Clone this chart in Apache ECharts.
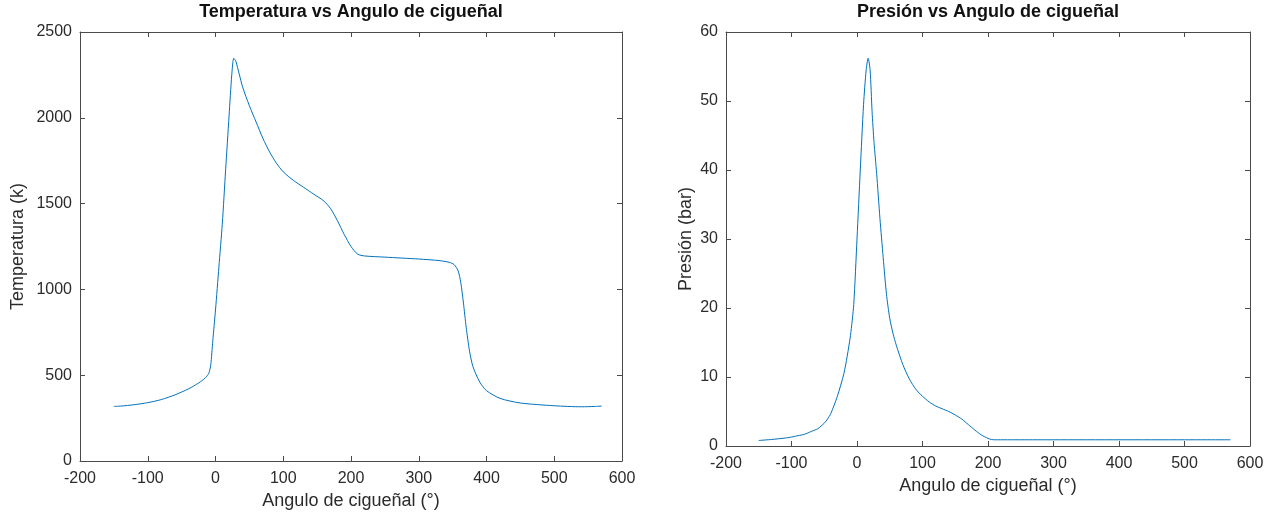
<!DOCTYPE html>
<html>
<head>
<meta charset="utf-8">
<script src="https://cdn.jsdelivr.net/npm/echarts@6/dist/echarts.min.js"></script>
<style>
  html, body { margin: 0; padding: 0; background: #ffffff; }
  #chart { width: 1271px; height: 517px; }
</style>
</head>
<body>
<div id="chart"></div>
<script>
// Crank angle (deg) and gas temperature (K)
const tempAngle = [-150, -140, -120, -100, -80, -60, -40, -30, -20, -15, -10, -7, -4, 0, 5, 10, 15, 20, 24, 27, 30, 35, 40, 50, 60, 70, 80, 90, 100, 115, 130, 145, 160, 170, 180, 190, 200, 210, 220, 250, 300, 330, 345, 352, 358, 362, 366, 370, 375, 380, 390, 400, 420, 450, 500, 540, 560, 570];
const temperature = [318, 320, 328, 340, 358, 385, 420, 442, 468, 485, 510, 560, 700, 880, 1130, 1380, 1700, 2010, 2250, 2347, 2330, 2255, 2180, 2070, 1975, 1880, 1800, 1735, 1685, 1635, 1595, 1555, 1515, 1470, 1400, 1320, 1250, 1205, 1195, 1188, 1177, 1168, 1158, 1145, 1110, 1040, 920, 780, 640, 550, 460, 410, 365, 338, 322, 316, 318, 320];

// Crank angle (deg) and cylinder pressure (bar)
const presAngle = [-150, -130, -110, -100, -90, -80, -70, -60, -50, -45, -40, -30, -20, -15, -10, -5, 0, 5, 10, 14, 17, 20, 23, 26, 30, 35, 40, 45, 50, 55, 60, 70, 80, 90, 100, 110, 120, 130, 140, 150, 160, 170, 180, 190, 200, 205, 210, 250, 300, 400, 500, 570];
const pressure = [0.8, 0.95, 1.15, 1.3, 1.5, 1.7, 2.1, 2.5, 3.3, 3.9, 4.7, 7.2, 10.5, 13, 16, 20.5, 30, 40, 49.5, 54.5, 56.2, 54.5, 48.5, 44, 39.5, 33, 27.3, 22, 18.5, 16.3, 14.6, 11.8, 9.7, 8.2, 7.2, 6.4, 5.8, 5.4, 5.0, 4.5, 3.9, 3.1, 2.3, 1.6, 1.1, 0.95, 0.9, 0.9, 0.9, 0.9, 0.9, 0.9];

// Axis ranges and tick labels
const angleTicks = [-200, -100, 0, 100, 200, 300, 400, 500, 600];
const tempTicks = [0, 500, 1000, 1500, 2000, 2500];
const presTicks = [0, 10, 20, 30, 40, 50, 60];

const FONT = 'Liberation Sans, Arial, Helvetica, sans-serif';
const AXIS_COLOR = '#4a4a4a';
const TEXT_COLOR = '#2b2b2b';
const LINE_COLOR = '#0072BD';

function zip(xs, ys) { return xs.map((x, i) => [x, ys[i]]); }
const plain = v => String(v);

function valueAxis(gridIndex, ticks, opts) {
  const step = ticks[1] - ticks[0];
  return Object.assign({
    type: 'value',
    gridIndex: gridIndex,
    min: ticks[0],
    max: ticks[ticks.length - 1],
    interval: step,
    splitLine: { show: false },
    axisLine: { show: true, onZero: false, lineStyle: { color: AXIS_COLOR, width: 1 } },
    axisTick: { show: true, inside: true, length: 5, lineStyle: { color: AXIS_COLOR, width: 1 } },
    axisLabel: { show: true, color: TEXT_COLOR, fontFamily: FONT, fontSize: 16, formatter: plain },
    nameTextStyle: { color: TEXT_COLOR, fontFamily: FONT, fontSize: 18 }
  }, opts || {});
}

function mirrorAxis(gridIndex, ticks, position) {
  return valueAxis(gridIndex, ticks, {
    position: position,
    axisLabel: { show: false }
  });
}

const grids = [
  { left: 80, top: 32, width: 542, height: 429 },
  { left: 726, top: 32, width: 524, height: 414 }
];

const option = {
  animation: false,
  backgroundColor: '#ffffff',
  title: [
    {
      text: 'Temperatura vs Angulo de cigueñal',
      left: 351, top: 3, padding: 0, textAlign: 'center',
      textStyle: { fontFamily: FONT, fontSize: 18, fontWeight: 'bold', color: '#111' }
    },
    {
      text: 'Presión vs Angulo de cigueñal',
      left: 988, top: 3, padding: 0, textAlign: 'center',
      textStyle: { fontFamily: FONT, fontSize: 18, fontWeight: 'bold', color: '#111' }
    }
  ],
  grid: grids,
  xAxis: [
    valueAxis(0, angleTicks, {
      position: 'bottom',
      name: 'Angulo de cigueñal (°)', nameLocation: 'middle', nameGap: 30,
      axisLabel: { color: TEXT_COLOR, fontFamily: FONT, fontSize: 16, margin: 10, formatter: plain }
    }),
    valueAxis(1, angleTicks, {
      position: 'bottom',
      name: 'Angulo de cigueñal (°)', nameLocation: 'middle', nameGap: 30,
      axisLabel: { color: TEXT_COLOR, fontFamily: FONT, fontSize: 16, margin: 10, formatter: plain }
    }),
    mirrorAxis(0, angleTicks, 'top'),
    mirrorAxis(1, angleTicks, 'top')
  ],
  yAxis: [
    valueAxis(0, tempTicks, {
      position: 'left',
      name: 'Temperatura (k)', nameLocation: 'middle', nameGap: 53,
      axisLabel: { color: TEXT_COLOR, fontFamily: FONT, fontSize: 16, margin: 8, formatter: plain }
    }),
    valueAxis(1, presTicks, {
      position: 'left',
      name: 'Presión (bar)', nameLocation: 'middle', nameGap: 31,
      axisLabel: { color: TEXT_COLOR, fontFamily: FONT, fontSize: 16, margin: 8, formatter: plain }
    }),
    mirrorAxis(0, tempTicks, 'right'),
    mirrorAxis(1, presTicks, 'right')
  ],
  series: [
    {
      type: 'line', xAxisIndex: 0, yAxisIndex: 0,
      data: zip(tempAngle, temperature),
      showSymbol: false, smooth: 0.25,
      lineStyle: { color: LINE_COLOR, width: 1 },
      itemStyle: { color: LINE_COLOR }
    },
    {
      type: 'line', xAxisIndex: 1, yAxisIndex: 1,
      data: zip(presAngle, pressure),
      showSymbol: false, smooth: 0.25,
      lineStyle: { color: LINE_COLOR, width: 1 },
      itemStyle: { color: LINE_COLOR }
    }
  ]
};

const chart = echarts.init(document.getElementById('chart'), null, { renderer: 'canvas' });
chart.setOption(option);
</script>
</body>
</html>
